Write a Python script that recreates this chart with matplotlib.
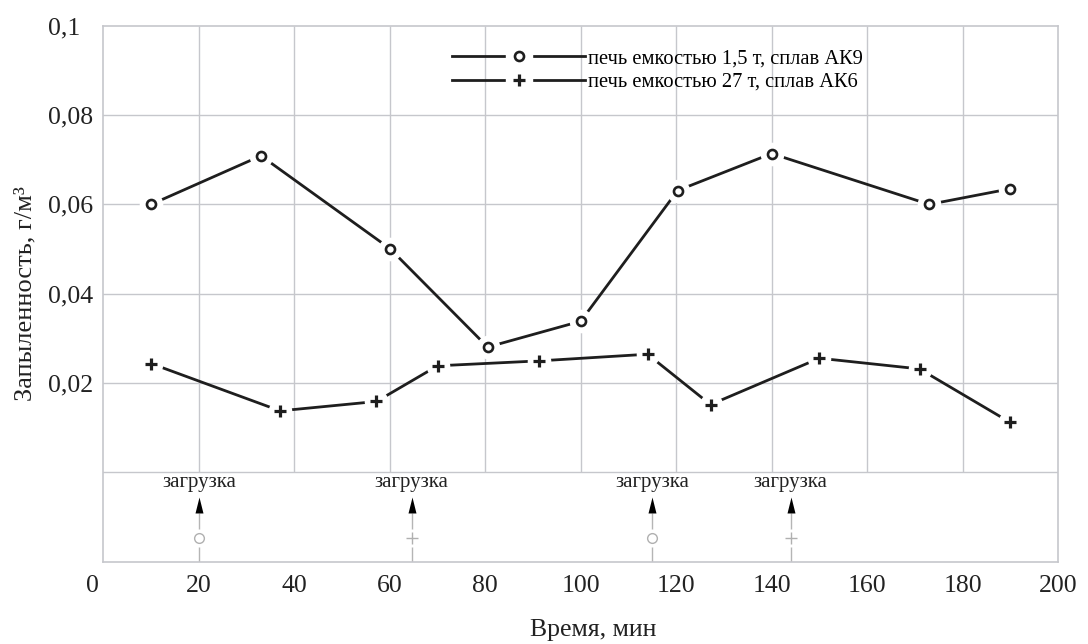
import matplotlib
matplotlib.use("Agg")
import matplotlib.pyplot as plt
from matplotlib.lines import Line2D
from matplotlib.legend_handler import HandlerTuple
from matplotlib.transforms import ScaledTranslation
import numpy as np

plt.rcParams['font.family'] = ['Liberation Serif', 'DejaVu Serif']

# series: furnace 1.5 t, alloy AK9 (circles)
t_ak9 = [10, 33, 60, 80.5, 100, 120.3, 140, 173, 190]
dust_ak9 = [0.060, 0.0709, 0.0501, 0.0280, 0.0338, 0.0631, 0.0714, 0.0600, 0.0635]

# series: furnace 27 t, alloy AK6 (plus)
t_ak6 = [10, 37, 57.2, 70, 91.2, 114, 127.2, 150, 171, 190]
dust_ak6 = [0.0243, 0.0137, 0.0158, 0.0238, 0.0249, 0.0264, 0.0151, 0.0255, 0.0231, 0.0111]

# loading moments and which furnace they belong to
load_t = [20, 64.6, 115, 144]
load_kind = ['o', '+', 'o', '+']

labels = ["печь емкостью 1,5 т, сплав АК9", "печь емкостью 27 т, сплав АК6"]
xticks = np.arange(0, 201, 20)
yticks = [0.02, 0.04, 0.06, 0.08, 0.1]
ytick_labels = ["0,02", "0,04", "0,06", "0,08", "0,1"]

grid_c = '#c6c7cc'
ink = '#1e1e1e'

fig = plt.figure(figsize=(10.88, 6.44), dpi=100)
ax = fig.add_axes([0.0951, 0.1273, 0.8773, 0.8323])
ax.set_xlim(0, 200)
ax.set_ylim(-0.0202, 0.1)

# grid: horizontal lines everywhere, vertical only above zero
for y in [0] + yticks[:-1]:
    ax.axhline(y, color=grid_c, lw=1.0, zorder=0)
ax.vlines(xticks[1:-1], 0, 0.1, color=grid_c, lw=1.0, zorder=0)
for s in ax.spines.values():
    s.set_color(grid_c)
    s.set_linewidth(1.2)

handles = []
for t, d, m, ms, mew in [(t_ak9, dust_ak9, 'o', 6.5, 1.9), (t_ak6, dust_ak6, '+', 9, 2.3)]:
    ax.plot(t, d, color=ink, lw=2.0, zorder=2)
    ax.plot(t, d, ls='none', marker='o', ms=17, mfc='white', mec='none', zorder=3)
    ax.plot(t, d, ls='none', marker=m, ms=ms, mfc='white', mec=ink, mew=mew, zorder=4)
    handles.append((Line2D([], [], color=ink, lw=2.0),
                    Line2D([], [], ls='none', marker='s', ms=19, mfc='white', mec='white'),
                    Line2D([], [], ls='none', marker=m, ms=ms, mfc='white', mec=ink, mew=mew)))

ax.legend(handles, labels, handler_map={tuple: HandlerTuple(ndivide=1)},
          loc='center left', bbox_to_anchor=(0.365, 0.917), frameon=False,
          borderaxespad=0, borderpad=0, handlelength=6.5, handletextpad=0.1,
          labelspacing=0.2, fontsize=14.8)

# loading marks below zero
arrow = [(-0.5, -1), (0.5, -1), (0, 1)]
for x, k in zip(load_t, load_kind):
    ax.vlines(x, -0.0202, -0.0092, color='#b5b5b5', lw=1.0, zorder=1)
    ax.plot(x, -0.0148, marker='o', ms=13, mfc='white', mec='none', zorder=2)
    if k == 'o':
        ax.plot(x, -0.0148, marker='o', ms=7, mfc='white', mec='#b0b0b0', mew=1.0, zorder=3)
    else:
        ax.plot(x, -0.0148, marker='+', ms=9, mec='#b0b0b0', mew=1.0, zorder=3)
    ax.plot(x, -0.0075, marker=arrow, ms=11.5, color='black', mew=0, zorder=3)
    ax.text(x, -0.0023, "загрузка", ha='center', va='center', fontsize=15, color='#222222')

ax.set_xticks(xticks)
ax.set_yticks(yticks)
ax.set_yticklabels(ytick_labels)
ax.tick_params(length=0, labelsize=18.5, colors='#222222')
ax.tick_params(axis='x', pad=9)
ax.tick_params(axis='y', pad=40)
for lab in ax.get_yticklabels():
    lab.set_ha('left')
ax.get_xticklabels()[0].set_transform(ax.get_xticklabels()[0].get_transform()
                                     + ScaledTranslation(-0.11, 0, fig.dpi_scale_trans))

ax.set_xlabel("Время, мин", fontsize=18.5, color='#222222')
ax.set_ylabel("Запыленность, г/м³", fontsize=19, color='#222222')
ax.xaxis.set_label_coords(0.513, -0.107)
ax.yaxis.set_label_coords(-0.07, 0.5)

fig.savefig("out.png", dpi=100, facecolor='white')
